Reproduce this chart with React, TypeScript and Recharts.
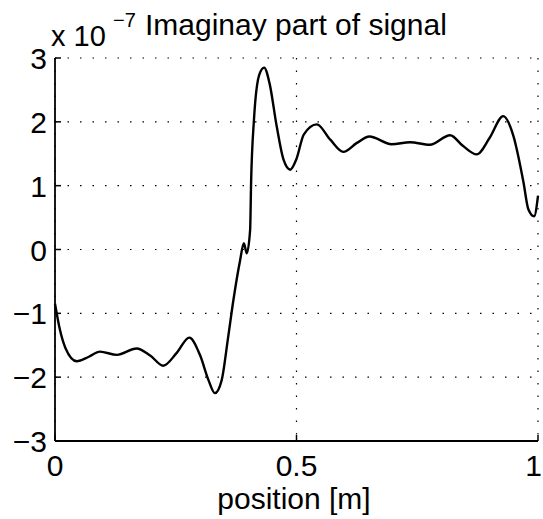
import { LineChart, Line, XAxis, YAxis, CartesianGrid } from "recharts";

// ─── Data (values in units of 1e-7) ─────────────────────────────────────────

const POSITION = [
  0.0, 0.01, 0.022, 0.045, 0.07, 0.093, 0.128, 0.169, 0.197, 0.224, 0.252, 0.278, 0.3, 0.318,
  0.331, 0.345, 0.358, 0.369, 0.383, 0.391, 0.397, 0.404, 0.406, 0.412, 0.423, 0.433, 0.444,
  0.459, 0.473, 0.487, 0.5, 0.515, 0.542, 0.57, 0.597, 0.625, 0.651, 0.697, 0.735, 0.776,
  0.818, 0.845, 0.873, 0.9, 0.928, 0.949, 0.97, 0.98, 0.992, 1.0,
];

const IMAG = [
  -0.85, -1.25, -1.55, -1.75, -1.68, -1.6, -1.65, -1.55, -1.66, -1.82, -1.62, -1.38, -1.65, -2.05,
  -2.25, -2.05, -1.4, -0.81, -0.18, 0.1, -0.06, 0.31, 1.05, 2.04, 2.74, 2.85, 2.61,
  1.93, 1.41, 1.25, 1.42, 1.8, 1.96, 1.72, 1.53, 1.67, 1.77, 1.65, 1.68, 1.64,
  1.79, 1.62, 1.49, 1.75, 2.09, 1.78, 1.05, 0.63, 0.52, 0.84,
];

const X_TICKS = [0, 0.5, 1];
const Y_TICKS = [-3, -2, -1, 0, 1, 2, 3];

const data = POSITION.map((x, i) => ({ x, y: IMAG[i] }));

const FONT = '"Liberation Sans", Arial, Helvetica, sans-serif';
const AXIS = { stroke: "#000", strokeWidth: 1.8 };

const fmt = (v: number) => (v < 0 ? `\u2212${Math.abs(v)}` : `${v}`);

// ─── Ticks (MATLAB style, pointing inward) ─────────────────────────────────

function BottomTick({ x, y, payload }: any) {
  // last label sits on the right edge, keep it inside the page
  const isLast = payload.value === X_TICKS[X_TICKS.length - 1];
  return (
    <g>
      <line x1={x} y1={y} x2={x} y2={y - 6} stroke="#000" strokeWidth={1.5} />
      <text
        x={isLast ? x + 4 : x}
        y={y + 35}
        textAnchor={isLast ? "end" : "middle"}
        fontSize={30}
        fontFamily={FONT}
        fill="#000"
      >
        {fmt(payload.value)}
      </text>
    </g>
  );
}

function LeftTick({ x, y, payload }: any) {
  return (
    <g>
      <line x1={x} y1={y} x2={x + 6} y2={y} stroke="#000" strokeWidth={1.5} />
      <text x={x - 8} y={y + 11} textAnchor="end" fontSize={30} fontFamily={FONT} fill="#000">
        {fmt(payload.value)}
      </text>
    </g>
  );
}

function TopTick({ x, y }: any) {
  return <line x1={x} y1={y} x2={x} y2={y + 6} stroke="#000" strokeWidth={1.5} />;
}

function RightTick({ x, y }: any) {
  return <line x1={x} y1={y} x2={x - 6} y2={y} stroke="#000" strokeWidth={1.5} />;
}

// ─── Component ───────────────────────────────────────────────────────────────

export default function App() {
  return (
    <div style={{ position: "absolute", left: 0, top: 0, width: 543, height: 519, background: "#fff" }}>
      <LineChart width={543} height={519} data={data} margin={{ top: 58, right: 5, bottom: 0, left: 0 }}>
        <CartesianGrid stroke="#000" strokeDasharray="1.5 11" strokeWidth={1.2} />
        <XAxis
          dataKey="x"
          type="number"
          domain={[0, 1]}
          ticks={X_TICKS}
          height={78}
          axisLine={AXIS}
          tickLine={false}
          tickSize={0}
          tickMargin={0}
          tick={<BottomTick />}
        />
        <XAxis
          xAxisId="top"
          orientation="top"
          type="number"
          domain={[0, 1]}
          ticks={X_TICKS}
          height={0}
          axisLine={AXIS}
          tickLine={false}
          tickSize={0}
          tickMargin={0}
          tick={<TopTick />}
        />
        <YAxis
          type="number"
          domain={[-3, 3]}
          ticks={Y_TICKS}
          width={55}
          axisLine={AXIS}
          tickLine={false}
          tickSize={0}
          tickMargin={0}
          tick={<LeftTick />}
        />
        <YAxis
          yAxisId="right"
          orientation="right"
          type="number"
          domain={[-3, 3]}
          ticks={Y_TICKS}
          width={0}
          axisLine={AXIS}
          tickLine={false}
          tickSize={0}
          tickMargin={0}
          tick={<RightTick />}
        />
        <Line
          type="monotone"
          dataKey="y"
          stroke="#000"
          strokeWidth={2.4}
          dot={false}
          isAnimationActive={false}
        />
      </LineChart>

      {/* title and x label */}
      <svg
        width={543}
        height={519}
        style={{ position: "absolute", left: 0, top: 0, pointerEvents: "none" }}
        fontFamily={FONT}
      >
        <text x={51} y={46} fontSize={29} fill="#000">x 10</text>
        <text x={113} y={27} fontSize={20} fill="#000">{"\u22127"}</text>
        <text x={145} y={35} fontSize={30} fill="#000">Imaginay part of signal</text>
        <text x={294} y={509} fontSize={30} textAnchor="middle" fill="#000">position [m]</text>
      </svg>
    </div>
  );
}
